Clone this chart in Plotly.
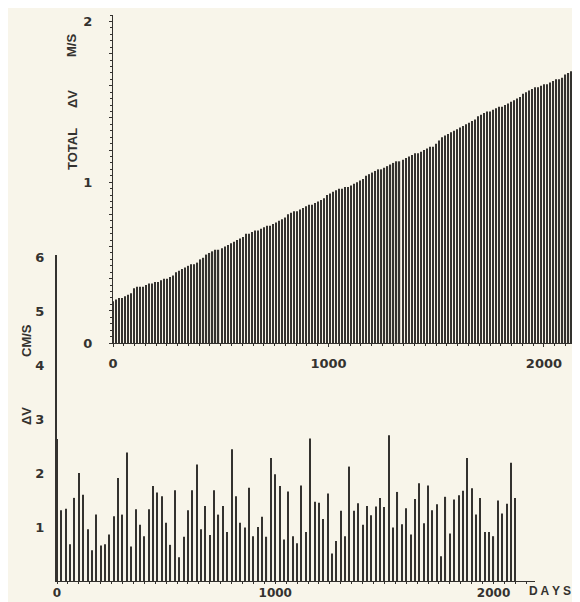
import plotly.graph_objects as go

# ---- data ----
# Top panel: cumulative total delta-V (m/s), one bar every 14 days
top_step_days = 14
top_total_dv = [
    0.26, 0.27, 0.28, 0.28, 0.29, 0.30, 0.31, 0.34, 0.35, 0.35,
    0.35, 0.36, 0.37, 0.37, 0.38, 0.38, 0.39, 0.40, 0.40, 0.41,
    0.42, 0.44, 0.45, 0.46, 0.47, 0.48, 0.49, 0.49, 0.50, 0.52,
    0.53, 0.55, 0.56, 0.57, 0.58, 0.58, 0.59, 0.60, 0.61, 0.62,
    0.63, 0.64, 0.65, 0.66, 0.68, 0.68, 0.69, 0.70, 0.70, 0.71,
    0.72, 0.73, 0.73, 0.74, 0.75, 0.76, 0.77, 0.78, 0.80, 0.81,
    0.82, 0.82, 0.83, 0.84, 0.85, 0.86, 0.86, 0.87, 0.88, 0.89,
    0.90, 0.92, 0.93, 0.94, 0.95, 0.96, 0.96, 0.97, 0.97, 0.98,
    0.99, 1.00, 1.01, 1.02, 1.04, 1.05, 1.06, 1.07, 1.08, 1.08,
    1.09, 1.10, 1.11, 1.12, 1.13, 1.13, 1.14, 1.15, 1.16, 1.17,
    1.18, 1.18, 1.19, 1.20, 1.21, 1.22, 1.22, 1.24, 1.26, 1.28,
    1.29, 1.30, 1.31, 1.32, 1.33, 1.34, 1.35, 1.36, 1.37, 1.38,
    1.39, 1.41, 1.42, 1.43, 1.44, 1.44, 1.45, 1.46, 1.47, 1.47,
    1.48, 1.49, 1.50, 1.51, 1.52, 1.53, 1.55, 1.56, 1.57, 1.58,
    1.59, 1.59, 1.60, 1.61, 1.61, 1.62, 1.63, 1.64, 1.64, 1.65,
    1.67, 1.68, 1.69, 1.69,
]
top_days = [i * top_step_days for i in range(len(top_total_dv))]

# Bottom panel: individual delta-V (cm/s), one bar every 20 days
bottom_step_days = 20
bottom_dv = [
    2.63,
    1.31, 1.34, 0.68, 1.54, 2.00, 1.60, 0.96, 0.57, 1.23, 0.66,
    0.68, 0.86, 1.20, 1.91, 1.23, 2.38, 0.64, 1.33, 1.04, 0.83,
    1.33, 1.76, 1.64, 1.57, 1.08, 0.67, 1.68, 0.44, 0.82, 1.31,
    1.68, 2.16, 0.96, 1.39, 0.85, 1.68, 1.23, 1.39, 0.91, 2.44,
    1.57, 1.08, 0.99, 1.73, 0.83, 1.00, 1.19, 0.82, 2.28, 1.98,
    1.76, 0.77,
    1.66, 0.83, 0.70, 1.77, 0.91, 2.64, 1.47, 1.45, 1.15, 1.62,
    0.51, 0.74, 1.30, 0.83, 2.12, 1.30, 1.44, 1.04, 1.39, 1.22,
    1.38, 1.54, 1.37, 2.70, 0.99, 1.65, 1.05, 1.35, 0.86, 1.52,
    1.81, 1.07, 1.77, 1.31, 1.42, 0.46, 1.56, 0.88, 1.51, 1.59,
    1.67, 2.28, 1.72, 1.23, 1.54, 0.91, 0.91, 0.83, 1.49, 1.25,
    1.43, 2.19, 1.54,
]
bottom_days = [i * bottom_step_days for i in range(len(bottom_dv))]

x_tick_vals = [0, 1000, 2000]
x_tick_text = ["0", "1000", "2000"]
top_y_vals = [round(0.2 * k, 1) for k in range(11)]
top_y_text = ["0", "", "", "", "", "1", "", "", "", "", "2"]
bottom_y_vals = [1, 2, 3, 4, 5, 6]
bottom_y_text = ["1", "2", "3", "4", "5", "6"]

# ---- styling ----
BG = "#f8f5ea"
INK = "#34322f"
tick_font = dict(family="DejaVu Sans", size=13, color=INK, weight="bold")
small_tick_font = dict(family="DejaVu Sans", size=12, color=INK, weight="bold")
W, H = 580, 602
OFF = 8  # page body margin offset of the figure inside the window

def px_x(p):
    return (p - OFF) / W

def px_y(p):
    return (H - (p - OFF)) / H

fig = go.Figure()

fig.add_trace(go.Bar(
    x=bottom_days, y=bottom_dv, width=5.0,
    marker=dict(color=INK, line=dict(width=0)),
    xaxis="x", yaxis="y", showlegend=False,
))
fig.add_trace(go.Bar(
    x=top_days, y=top_total_dv, width=5.5,
    marker=dict(color=INK, line=dict(width=0)),
    xaxis="x2", yaxis="y2", showlegend=False,
))

common = dict(showgrid=False, zeroline=False, automargin=False, showline=True, linecolor=INK)

fig.update_layout(
    width=W, height=H, autosize=False,
    margin=dict(l=0, r=0, t=0, b=0, pad=0),
    paper_bgcolor=BG, plot_bgcolor="rgba(0,0,0,0)",
    showlegend=False,
    xaxis=dict(
        domain=[px_x(57), px_x(535)], range=[0, 2190],
        anchor="y", linewidth=1.3, **common,
        tickvals=x_tick_vals, ticktext=x_tick_text, ticks="outside",
        ticklen=2, tickcolor=INK, tickfont=small_tick_font, ticklabelstandoff=-2,
        minor=dict(dtick=50, ticks="outside", ticklen=2, tickcolor=INK, showgrid=False),
    ),
    yaxis=dict(
        domain=[px_y(581), px_y(255)], range=[0, 6.04],
        anchor="x", linewidth=2.2, **common,
        tickvals=bottom_y_vals, ticktext=bottom_y_text, ticks="",
        tickfont=tick_font, ticklabelstandoff=8,
    ),
    xaxis2=dict(
        domain=[px_x(113), px_x(578)], range=[0, 2158],
        anchor="y2", linewidth=1.3, **common,
        tickvals=x_tick_vals, ticktext=x_tick_text, ticks="outside",
        ticklen=3, tickcolor=INK, tickfont=tick_font, ticklabelstandoff=5,
        minor=dict(dtick=50, ticks="outside", ticklen=2, tickcolor=INK, showgrid=False),
    ),
    yaxis2=dict(
        domain=[px_y(343), px_y(15)], range=[0, 2.04],
        anchor="x2", linewidth=1.3, **common,
        tickvals=top_y_vals, ticktext=top_y_text, ticks="outside",
        ticklen=3, tickcolor=INK, tickfont=tick_font, ticklabelstandoff=14,
        minor=dict(dtick=0.04, ticks="outside", ticklen=2, tickcolor=INK, showgrid=False),
    ),
)

label_font = dict(family="Liberation Sans", size=13, color=INK, weight="bold")
annotations = [
    ("TOTAL", 72, 149), ("ΔV", 72, 99), ("M/S", 72, 46),
    ("ΔV", 26, 416), ("CM/S", 26, 341),
]
for text, ax_px, ay_px in annotations:
    fig.add_annotation(
        text=text, x=px_x(ax_px), y=px_y(ay_px), xref="paper", yref="paper",
        showarrow=False, textangle=-90, font=label_font,
        xanchor="center", yanchor="middle",
    )
fig.add_annotation(
    text="D A Y S", x=px_x(550), y=px_y(591), xref="paper", yref="paper",
    showarrow=False, font=dict(family="Liberation Sans", size=12, color=INK, weight="bold"),
    xanchor="center", yanchor="middle",
)

fig.write_html("out.html")
